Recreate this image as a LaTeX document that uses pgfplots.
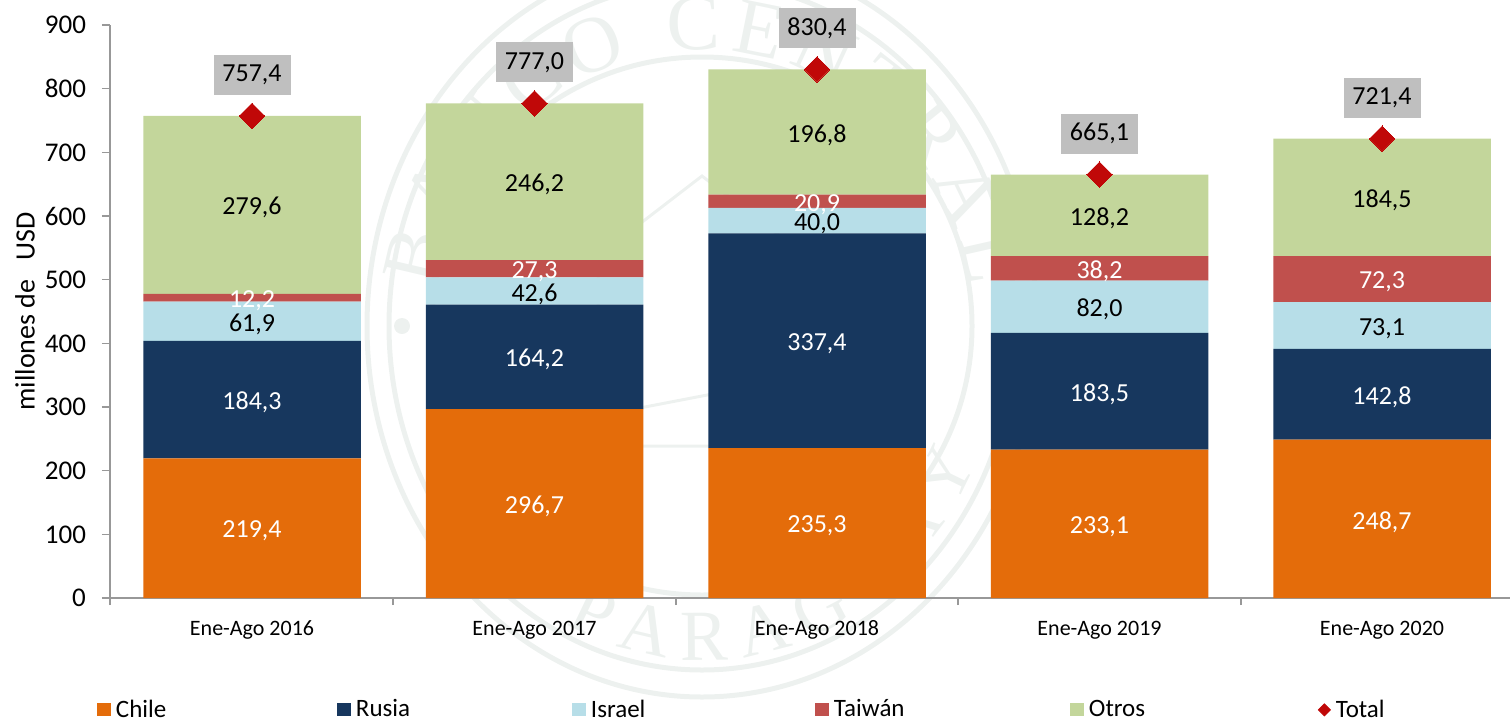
\documentclass[border=0pt]{standalone}
\usepackage{fontspec}
\setmainfont{Carlito}
\newfontfamily\sealfont{Liberation Serif}
\usepackage{pgfplots}
\usepackage{pgfplotstable}
\pgfplotsset{compat=1.18}
\usetikzlibrary{decorations.text}
\definecolor{cChile}{HTML}{E46C0A}
\definecolor{cRusia}{HTML}{17375E}
\definecolor{cIsrael}{HTML}{B7DEE8}
\definecolor{cTaiwan}{HTML}{C0504D}
\definecolor{cOtros}{HTML}{C3D69B}
\definecolor{cTotal}{HTML}{C00808}
\definecolor{cBox}{HTML}{BFBFBF}
\definecolor{cAxis}{HTML}{989898}
\definecolor{cSeal}{HTML}{EDF1EF}

\pgfplotstableread{
x Chile Rusia Israel Taiwan Otros
0 219.4 184.3 61.9 12.2 279.6
1 296.7 164.2 42.6 27.3 246.2
2 235.3 337.4 40.0 20.9 196.8
3 233.1 183.5 82.0 38.2 128.2
4 248.7 142.8 73.1 72.3 184.5
}\tblbars
\pgfplotstableread{
x y label
0 757.4 757,4
1 777.0 777,0
2 830.4 830,4
3 665.1 665,1
4 721.4 721,4
}\tbltotal
\pgfplotstableread{
x y label
0 434.65 61,9
0 617.6 279,6
1 482.2 42,6
1 653.9 246,2
2 592.7 40,0
2 732.0 196,8
3 457.6 82,0
3 600.9 128,2
4 428.05 73,1
4 629.15 184,5
}\tblblack
\pgfplotstableread{
x y label
0 109.7 219,4
0 311.55 184,3
0 471.7 12,2
1 148.35 296,7
1 378.8 164,2
1 517.15 27,3
2 117.65 235,3
2 404.0 337,4
2 623.15 20,9
3 116.55 233,1
3 324.85 183,5
3 517.7 38,2
4 124.35 248,7
4 319.9 142,8
4 500.75 72,3
}\tblwhite

\pgfplotsset{
  common/.style={
    scale only axis, width=700pt, height=286.5pt,
    xmin=-0.5027, xmax=4.453, ymin=0, ymax=900,
  },
  swatch/.style={legend image code/.code={\fill[##1] (0pt,-3.25pt) rectangle (7pt,3.25pt);}},
}
\begin{document}
\begin{tikzpicture}[x=1pt,y=1pt]
\path[clip, use as bounding box] (-55pt,-61pt) rectangle (700pt,299pt);
% watermark seal (px -> pt: x=(px-110)/2, y=(598-py)/2)
\begin{scope}[shift={(296pt,136pt)}]
  \draw[cSeal,line width=2.5pt] (0,0) ellipse [x radius=167.5pt,y radius=185.5pt];
  \draw[cSeal,line width=2.5pt] (0,0) ellipse [x radius=156.5pt,y radius=172pt];
  \draw[cSeal,line width=2.5pt] (0,0) ellipse [x radius=135pt,y radius=134.5pt];
  \draw[cSeal,line width=1.5pt] (-52pt,-60pt) -- (-52pt,35pt) -- (0pt,75pt) -- (52pt,35pt) -- (52pt,-60pt) -- cycle;
  \draw[cSeal,line width=1.5pt] (-52pt,-45pt) -- (52pt,-25pt);
  \fill[cSeal] (-150pt,0) circle (4pt);
  \fill[cSeal] (150pt,0) circle (4pt);
  \path[postaction={decorate,decoration={text along path,text align=fit to path,
      text={|\fontsize{40}{40}\sealfont\color{cSeal}|BANCO CENTRAL}}}]
      (172:135pt and 138pt) arc [start angle=172,end angle=8,x radius=135pt,y radius=138pt];
  \path[postaction={decorate,decoration={text along path,text align=fit to path,
      text={|\fontsize{36}{36}\sealfont\color{cSeal}|DEL PARAGUAY}}}]
      (204:150pt and 167pt) arc [start angle=204,end angle=336,x radius=150pt,y radius=167pt];
\end{scope}

\begin{axis}[common,
  ybar stacked, bar width=108.75pt,
  axis x line*=bottom, axis y line*=left,
  axis line style={cAxis,line width=0.8pt,-},
  tick align=outside, tick style={cAxis,line width=0.8pt},
  ytick={0,100,...,900}, major tick length=4pt,
  xtick={0,1,2,3,4},
  xticklabels={Ene-Ago 2016,Ene-Ago 2017,Ene-Ago 2018,Ene-Ago 2019,Ene-Ago 2020},
  minor xtick={-0.5027,0.499,1.5,2.5,3.5},
  minor tick length=3.5pt,
  major x tick style={draw=none},
  xticklabel style={font=\fontsize{11}{13}\selectfont, text height=8pt, text depth=2.5pt, anchor=north, yshift=-3pt},
  yticklabel style={font=\fontsize{13.5}{15}\selectfont, xshift=-4.5pt},
  /pgf/number format/assume math mode=true,
  ylabel={millones de~~~USD},
  every axis y label/.style={at={(axis description cs:-0.0607,0.5)},anchor=center,rotate=90,font=\fontsize{14}{16}\selectfont},
  legend columns=6,
  legend style={at={(axis description cs:-0.0093,-0.1952)},anchor=west,draw=none,fill=none,inner sep=0pt,outer sep=0pt,
    nodes={inner sep=0pt,outer sep=0pt,font=\fontsize{12.5}{15}\selectfont},
    /tikz/column sep=0pt},
]
\addplot[fill=cChile,draw=none,swatch] table[x=x,y=Chile]{\tblbars};
\addlegendentry{\makebox[113pt][l]{\hspace{2.5pt}Chile}}
\addplot[fill=cRusia,draw=none,swatch] table[x=x,y=Rusia]{\tblbars};
\addlegendentry{\makebox[110.5pt][l]{\hspace{2.5pt}Rusia}}
\addplot[fill=cIsrael,draw=none,swatch] table[x=x,y=Israel]{\tblbars};
\addlegendentry{\makebox[114.5pt][l]{\hspace{2.5pt}Israel}}
\addplot[fill=cTaiwan,draw=none,swatch] table[x=x,y=Taiwan]{\tblbars};
\addlegendentry{\makebox[120.5pt][l]{\hspace{2.5pt}Taiwán}}
\addplot[fill=cOtros,draw=none,swatch] table[x=x,y=Otros]{\tblbars};
\addlegendentry{\makebox[117pt][l]{\hspace{2.5pt}Otros}}
\addlegendimage{legend image code/.code={\fill[cTotal] (0.5pt,0pt) -- (3.5pt,3pt) -- (6.5pt,0pt) -- (3.5pt,-3pt) -- cycle;}}
\addlegendentry{\makebox[40pt][l]{\hspace{2.5pt}Total}}
\end{axis}

\begin{axis}[common, hide axis, clip=false]
\addplot[only marks, mark=square*, mark size=4.5pt, mark options={rotate=45,fill=cTotal,draw=cTotal,line width=0pt},
  nodes near coords, point meta=explicit symbolic,
  every node near coord/.style={anchor=center, yshift=20.5pt, fill=cBox, text=black, inner sep=0pt,
    minimum width=38.5pt, minimum height=20pt, font=\fontsize{13}{15}\selectfont}]
  table[x=x,y=y,meta=label]{\tbltotal};
\addplot[draw=none, mark=none, nodes near coords, point meta=explicit symbolic,
  every node near coord/.style={anchor=center, yshift=-1.5pt, text=black, inner sep=0pt, font=\fontsize{13}{15}\selectfont}]
  table[x=x,y=y,meta=label]{\tblblack};
\addplot[draw=none, mark=none, nodes near coords, point meta=explicit symbolic,
  every node near coord/.style={anchor=center, yshift=-1.5pt, text=white, inner sep=0pt, font=\fontsize{13}{15}\selectfont}]
  table[x=x,y=y,meta=label]{\tblwhite};
\end{axis}
\end{tikzpicture}
\end{document}
